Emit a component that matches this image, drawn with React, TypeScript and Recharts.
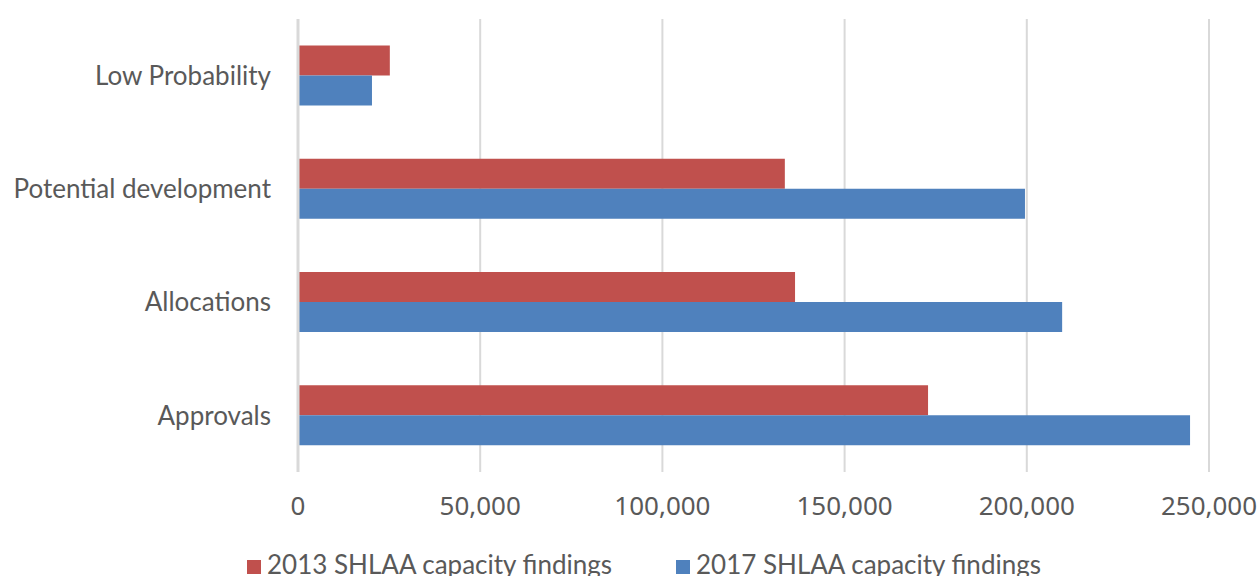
import { Bar, BarChart, CartesianGrid, XAxis, YAxis } from "recharts";

const categories = ["Low Probability", "Potential development", "Allocations", "Approvals"];
const findings2013 = [25200, 133600, 136400, 172900];
const findings2017 = [20300, 199500, 209700, 244800];
const xTicks = [0, 50000, 100000, 150000, 200000, 250000];

const data = categories.map((name, i) => ({
  name,
  y2013: findings2013[i],
  y2017: findings2017[i],
}));

const FONT = "Lato, sans-serif";
const TICK_FONT = "'Noto Sans', sans-serif";
const TEXT = "#595959";

const LegendBox = () => (
  <div
    style={{
      position: "absolute",
      left: 247,
      top: 549,
      display: "flex",
      gap: 64,
      fontFamily: FONT,
      fontSize: 26,
      color: TEXT,
      lineHeight: "30px",
      whiteSpace: "nowrap",
    }}
  >
    <span style={{ display: "flex", alignItems: "center" }}>
      <span style={{ width: 14, height: 14, background: "#C0504D", marginRight: 6, marginTop: 6 }} />
      2013 SHLAA capacity findings
    </span>
    <span style={{ display: "flex", alignItems: "center" }}>
      <span style={{ width: 14, height: 14, background: "#4F81BD", marginRight: 6, marginTop: 6 }} />
      2017 SHLAA capacity findings
    </span>
  </div>
);

export default function App() {
  return (
    <div style={{ position: "absolute", left: 0, top: 0, width: 1258, height: 576, background: "#fff", overflow: "hidden" }}>
      <BarChart
        width={1258}
        height={576}
        data={data}
        layout="vertical"
        margin={{ top: 19, right: 49, left: 0, bottom: 74 }}
        barCategoryGap="23.5%"
        barGap={0}
      >
        <CartesianGrid horizontal={false} stroke="#d9d9d9" strokeWidth={2} />
        <XAxis
          type="number"
          domain={[0, 250000]}
          ticks={xTicks}
          axisLine={false}
          tickLine={false}
          tickMargin={19}
          tickFormatter={(v: number) => v.toLocaleString("en-US")}
          tick={{ fill: TEXT, fontSize: 26, fontFamily: TICK_FONT }}
          interval={0}
        />
        <YAxis
          type="category"
          dataKey="name"
          width={298}
          axisLine={{ stroke: "#d9d9d9", strokeWidth: 3 }}
          tickLine={false}
          tickMargin={21}
          tick={{ fill: TEXT, fontSize: 26, fontFamily: FONT }}
        />
        <Bar dataKey="y2013" name="2013 SHLAA capacity findings" fill="#C0504D" isAnimationActive={false} />
        <Bar dataKey="y2017" name="2017 SHLAA capacity findings" fill="#4F81BD" isAnimationActive={false} />
      </BarChart>
      <LegendBox />
    </div>
  );
}
